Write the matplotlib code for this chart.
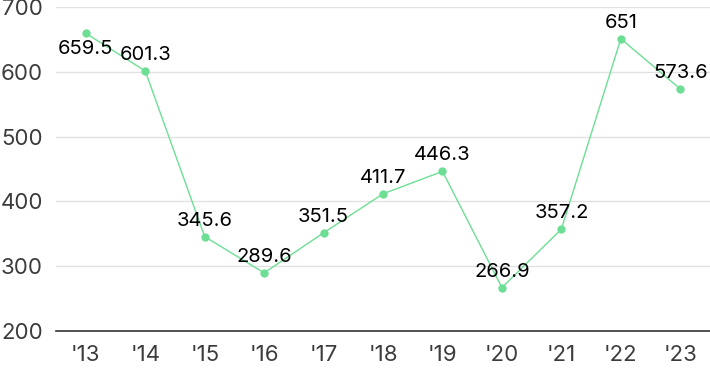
import matplotlib
matplotlib.use("Agg")
import matplotlib.pyplot as plt

years = ["'13", "'14", "'15", "'16", "'17", "'18", "'19", "'20", "'21", "'22", "'23"]
values = [659.5, 601.3, 345.6, 289.6, 351.5, 411.7, 446.3, 266.9, 357.2, 651, 573.6]
labels = ["659.5", "601.3", "345.6", "289.6", "351.5", "411.7", "446.3", "266.9", "357.2", "651", "573.6"]
yticks = [200, 300, 400, 500, 600, 700]

plt.rcParams['font.family'] = ['Inter', 'DejaVu Sans']

fig = plt.figure(figsize=(7.1, 3.71), dpi=100)
ax = fig.add_axes([0.079, 0.108, 0.921, 0.873])
x = list(range(len(years)))
green = '#6ddf95'
ax.plot(x, values, color=green, lw=1.0, marker='o', ms=6, markeredgewidth=0, clip_on=False, zorder=3)

for i, (v, lab) in enumerate(zip(values, labels)):
    off = -16 if i == 0 else 16
    ax.annotate(lab, (i, v), xytext=(0, off), textcoords='offset pixels',
                ha='center', va='center', fontsize=14.5, color='#000000', zorder=4)

ax.set_xlim(-0.5, 10.5)
ax.set_ylim(200, 700)
ax.set_yticks(yticks)
ax.set_yticklabels([str(t) for t in yticks])
ax.set_xticks(x)
ax.set_xticklabels(years)
ax.tick_params(axis='both', length=0, labelsize=16, labelcolor='#3c3c3c')
ax.tick_params(axis='x', pad=10)
ax.tick_params(axis='y', pad=9.5)
ax.grid(axis='y', color='#e2e2e2', lw=1)
ax.set_axisbelow(True)
for s in ['left', 'right', 'top']:
    ax.spines[s].set_visible(False)
ax.spines['bottom'].set_color('#333333')
ax.spines['bottom'].set_linewidth(1.2)

fig.savefig('out.png', dpi=100)
